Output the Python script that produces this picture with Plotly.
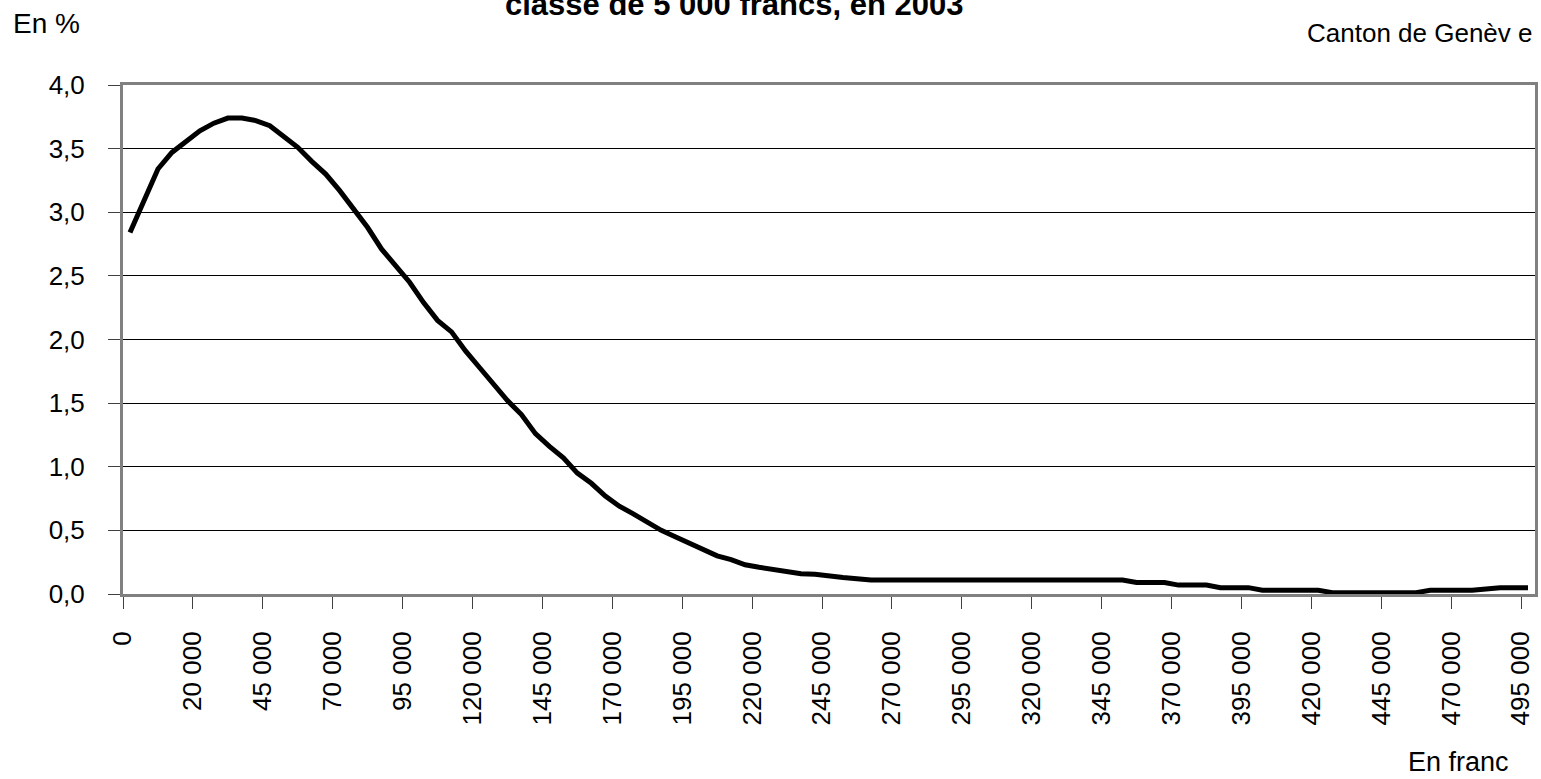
import plotly.graph_objects as go

# Share of taxpayers (%) by income class of 5 000 francs (101 classes)
share_pct = [
    2.84, 3.09, 3.34, 3.47, 3.56, 3.64, 3.70, 3.74, 3.74, 3.72,
    3.68, 3.59, 3.51, 3.40, 3.30, 3.17, 3.03, 2.88, 2.71, 2.58,
    2.45, 2.29, 2.15, 2.06, 1.91, 1.78, 1.65, 1.52, 1.41, 1.26,
    1.16, 1.07, 0.95, 0.87, 0.77, 0.69, 0.63, 0.56, 0.50, 0.45,
    0.40, 0.34, 0.30, 0.27, 0.23, 0.21, 0.195, 0.18, 0.16, 0.155,
    0.14, 0.13, 0.12, 0.11, 0.11, 0.11, 0.11, 0.11, 0.11, 0.11,
    0.11, 0.11, 0.11, 0.11, 0.11, 0.11, 0.11, 0.11, 0.11, 0.11,
    0.11, 0.11, 0.09, 0.09, 0.09, 0.07, 0.07, 0.07, 0.05, 0.05,
    0.05, 0.03, 0.03, 0.03, 0.03, 0.03, 0.01, 0.01, 0.01, 0.01,
    0.01, 0.01, 0.01, 0.03, 0.03, 0.03, 0.03, 0.04, 0.05, 0.05,
    0.05,
]
class_index = list(range(len(share_pct)))

tick_labels = ["0", "20 000", "45 000", "70 000", "95 000", "120 000", "145 000",
               "170 000", "195 000", "220 000", "245 000", "270 000", "295 000",
               "320 000", "345 000", "370 000", "395 000", "420 000", "445 000",
               "470 000", "495 000"]
tick_step = 5
tick_positions = [k * tick_step - 0.5 for k in range(len(tick_labels))]

FONT = "Liberation Sans, Arial, sans-serif"

fig = go.Figure()
fig.add_trace(go.Scatter(
    x=class_index, y=share_pct, mode="lines",
    line=dict(color="black", width=5),
    hoverinfo="skip", showlegend=False,
))

fig.update_layout(
    width=1541, height=779,
    margin=dict(l=123, r=3, t=85, b=185),
    paper_bgcolor="white", plot_bgcolor="white",
    separators=", ",
    font=dict(family=FONT, color="black", size=26),
    showlegend=False,
)

fig.update_xaxes(
    range=[-0.5, len(share_pct) - 0.5],
    tickmode="array", tickvals=tick_positions, ticktext=tick_labels,
    tickangle=-90, ticks="outside", ticklen=12, tickwidth=1, tickcolor="#404040",
    tickfont=dict(family=FONT, size=26, color="black"),
    ticklabelstandoff=12,
    showgrid=False, zeroline=False,
    showline=True, linecolor="#808080", linewidth=3, mirror=True,
)
fig.update_yaxes(
    range=[0, 4.0], dtick=0.5, tickformat=".1f",
    ticks="outside", ticklen=12, tickwidth=1, tickcolor="#404040",
    tickfont=dict(family=FONT, size=26, color="black"),
    ticklabelstandoff=18,
    showgrid=True, gridcolor="black", gridwidth=1,
    zeroline=False,
    showline=True, linecolor="#808080", linewidth=3, mirror=True,
)

annotations = [
    dict(text="<b>classe de 5 000 francs, en 2003</b>", x=0.4325, y=1.120,
         xanchor="center", yanchor="bottom", font=dict(size=31)),
    dict(text="En %", x=-0.079, y=1.086, xanchor="left", yanchor="bottom",
         font=dict(size=28)),
    dict(text="Canton de Genèv e", x=1.0, y=1.069, xanchor="right",
         yanchor="bottom", font=dict(size=26)),
    dict(text="En franc", x=0.983, y=-0.3644, xanchor="right", yanchor="bottom",
         font=dict(size=27)),
]
for a in annotations:
    fig.add_annotation(xref="paper", yref="paper", showarrow=False, **a)

fig.write_html(
    "out.html",
    config={"displayModeBar": False},
    post_script="document.body.style.margin='0';document.body.style.overflow='hidden';",
)
